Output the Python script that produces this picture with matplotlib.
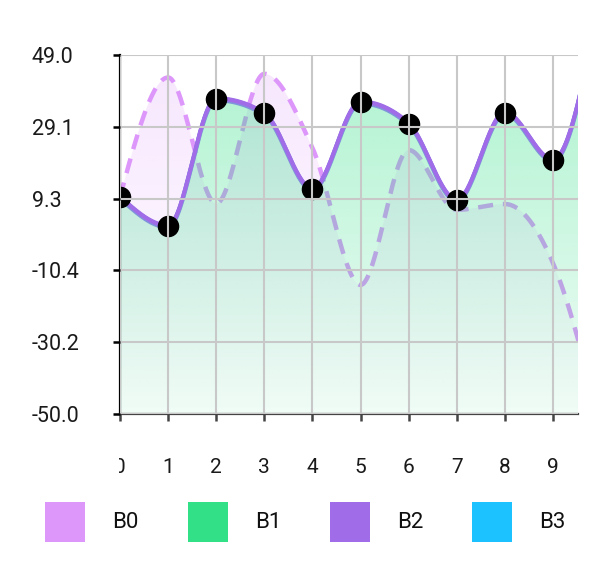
import numpy as np
import matplotlib
matplotlib.use("Agg")
import matplotlib.pyplot as plt
from matplotlib.patches import PathPatch, Rectangle
from matplotlib.transforms import Bbox
import matplotlib.patheffects as pe

plt.rcParams['font.family'] = ['Roboto', 'DejaVu Sans']

# ---- data ----
x_vals = list(range(11))
x_ticks = list(range(10))
x_tick_labels = [str(v) for v in x_ticks]
y_ticks = [-50.0, -30.2, -10.4, 9.3, 29.1, 49.0]
y_tick_labels = ["-50.0", "-30.2", "-10.4", "9.3", "29.1", "49.0"]
series_names = ["B0", "B1", "B2", "B3"]
series_colors = ["#DD96FA", "#32E087", "#A06CE8", "#1CC2FF"]
B0 = [9.8, 42.8, 8.0, 43.8, 23.4, -14.4, 22.8, 6.3, 7.9, -8.4, -54.0]
B1 = [9.85, 1.85, 36.9, 32.9, 12.05, 36.0, 30.1, 9.0, 33.1, 20.05, 67.0]
B2 = [9.85, 1.85, 36.9, 32.9, 12.05, 36.0, 30.1, 9.0, 33.1, 20.05, 67.0]
B3 = [9.85, 1.85, 36.9, 32.9, 12.05, 36.0, 30.1, 9.0, 33.1, 20.05, 67.0]


def monotone_x(xs, ys, per=60):
    xs = np.asarray(xs, float)
    ys = np.asarray(ys, float)
    n = len(xs)
    h = np.diff(xs)
    s = np.diff(ys) / h
    m = np.zeros(n)
    for i in range(1, n - 1):
        p = (s[i - 1] * h[i] + s[i] * h[i - 1]) / (h[i - 1] + h[i])
        m[i] = (np.sign(s[i - 1]) + np.sign(s[i])) * min(abs(s[i - 1]), abs(s[i]), 0.5 * abs(p))
    m[0] = (3 * s[0] - m[1]) / 2
    m[-1] = (3 * s[-1] - m[-2]) / 2
    X, Y = [], []
    for i in range(n - 1):
        t = np.linspace(0, 1, per, endpoint=(i == n - 2))
        h00 = 2 * t**3 - 3 * t**2 + 1
        h10 = t**3 - 2 * t**2 + t
        h01 = -2 * t**3 + 3 * t**2
        h11 = t**3 - t**2
        X.append(xs[i] + t * h[i])
        Y.append(h00 * ys[i] + h10 * h[i] * m[i] + h01 * ys[i + 1] + h11 * h[i] * m[i + 1])
    return np.concatenate(X), np.concatenate(Y)


fig = plt.figure(figsize=(6.1, 5.78), dpi=100)
W, H = 610, 578
ax = fig.add_axes([120 / W, (H - 414) / H, 458 / W, 359 / H])
ymin, ymax = -50.0, 49.0
xmax = 9.52


def gradient_fill(xs, ys, color, a_top, a_bot, z):
    poly = ax.fill_between(xs, ys, ymin, color='none', lw=0)
    patch = PathPatch(poly.get_paths()[0], transform=ax.transData,
                      facecolor='none', edgecolor='none')
    ax.add_patch(patch)
    ng = 256
    grad = np.zeros((ng, 1, 4))
    grad[:, 0, 0:3] = matplotlib.colors.to_rgb(color)
    grad[:, 0, 3] = np.linspace(a_top, a_bot, ng)
    im = ax.imshow(grad, extent=[0, xmax, ymin, ymax], origin='upper', aspect='auto',
                   zorder=z, interpolation='bilinear')
    im.set_clip_path(patch)


# B0 gradient fill + dashed line
x0, y0 = monotone_x(x_vals, B0)
gradient_fill(x0, y0, series_colors[0], 0.24, 0.0, 1.0)
ax.plot(x0, y0, color=series_colors[0], lw=3.2, dashes=(3.4, 2.2), zorder=1.1,
        dash_capstyle='butt')

# B1 gradient fill
x1, y1 = monotone_x(x_vals, B1)
gradient_fill(x1, y1, series_colors[1], 0.40, 0.07, 1.2)
ax.set_xlim(0, xmax)
ax.set_ylim(ymin, ymax)

# B3 line (edge under B2), B2 line + markers
x3, y3 = monotone_x(x_vals, B3)
ax.plot(x3, y3, color='#7F95DA', lw=3, zorder=1.5,
        path_effects=[pe.Stroke(offset=(0, -1.0)), pe.Normal()])
x2, y2 = monotone_x(x_vals, B2)
ax.plot(x2, y2, color=series_colors[2], lw=2.6, zorder=1.6,
        path_effects=[pe.Stroke(offset=(0, 0.6)), pe.Normal()])
ax.plot(x_vals, B2, 'o', color='black', ms=14.5, zorder=1.8, ls='none')

# grid on top
ax.set_axisbelow(False)
ax.set_xticks(x_ticks)
ax.set_yticks(y_ticks)
ax.grid(True, color='#C8C8C8', lw=1.5, zorder=2.5)

for sp in ['top', 'right']:
    ax.spines[sp].set_visible(False)
ax.spines['left'].set_color('black')
ax.spines['left'].set_linewidth(1.6)
ax.spines['bottom'].set_color('#444444')
ax.spines['bottom'].set_linewidth(1.6)
ax.tick_params(axis='y', length=5, width=1.8, color='black', pad=58.5,
               labelsize=15.5, labelcolor='#1a1a1a')
ax.tick_params(axis='x', length=5, width=1.8, color='#444444', pad=27,
               labelsize=15, labelcolor='#1a1a1a')
ax.set_yticklabels(y_tick_labels, ha='left')
ax.set_xticklabels(x_tick_labels)

fig.canvas.draw()
lab0 = ax.get_xticklabels()[0]
lab0.set_clip_box(Bbox([[119, 0], [W, H]]))
lab0.set_clip_on(True)

# legend
box_x = [45, 188, 330, 472]
for i, name in enumerate(series_names):
    bx = box_x[i]
    fig.patches.append(Rectangle((bx / W, (H - 542) / H), 40 / W, 40 / H,
                                 transform=fig.transFigure, facecolor=series_colors[i],
                                 edgecolor='none'))
    fig.text((bx + 67) / W, (H - 522) / H, name, fontsize=16, va='center', ha='left',
             color='#111111')

fig.savefig('out.png', dpi=100)
